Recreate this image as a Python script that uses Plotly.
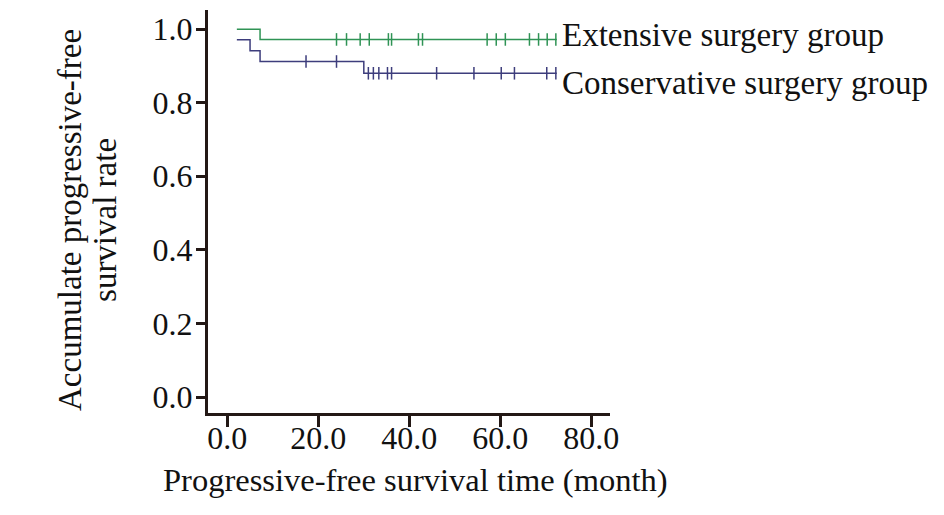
import plotly.graph_objects as go
import numpy as np

# Kaplan-Meier step data (months, survival rate)
ext_times = [2.1, 7.2, 72.4]
ext_surv = [1.0, 0.972, 0.972]
ext_censor = [24.0, 26.2, 29.2, 31.2, 35.4, 36.1, 42.0, 42.9, 57.1, 59.1, 61.1, 66.4, 68.4, 70.3, 72.2]

con_times = [2.1, 5.0, 7.2, 30.0, 72.4]
con_surv = [0.971, 0.941, 0.912, 0.880, 0.880]
con_censor = [17.3, 24.0, 31.0, 32.1, 33.3, 35.2, 36.1, 46.0, 54.2, 60.2, 63.1, 70.2, 72.2]

x_ticks = [0, 20, 40, 60, 80]
y_ticks = [0.0, 0.2, 0.4, 0.6, 0.8, 1.0]

group_names = ["Extensive surgery group", "Conservative surgery group"]
colors = ["#2f9355", "#3d3d7c"]
x_title = "Progressive-free survival time (month)"
y_title_lines = ["Accumulate progressive-free", "survival rate"]


def step_value(times, surv, t):
    idx = np.searchsorted(np.array(times), t, side="right") - 1
    idx = max(idx, 0)
    return surv[idx]


FONT = "Liberation Serif"
AX = "#231815"
TXT = "#111111"

fig = go.Figure()
for times, surv, cens, col in [(ext_times, ext_surv, ext_censor, colors[0]),
                               (con_times, con_surv, con_censor, colors[1])]:
    fig.add_trace(go.Scatter(x=times, y=surv, mode="lines", line=dict(color=col, width=1.5, shape="hv"),
                             showlegend=False, hoverinfo="skip"))
    fig.add_trace(go.Scatter(x=cens, y=[step_value(times, surv, t) for t in cens], mode="markers",
                             marker=dict(symbol="line-ns", size=9, line=dict(color=col, width=1.5)),
                             showlegend=False, hoverinfo="skip"))

# end labels
for name, times, surv, dy in [(group_names[0], ext_times, ext_surv, 0.011),
                              (group_names[1], con_times, con_surv, -0.027)]:
    fig.add_annotation(x=times[-1], y=surv[-1] + dy, text=name, showarrow=False,
                       xanchor="left", yanchor="middle", xshift=3,
                       font=dict(family=FONT, size=33, color=TXT))

# axis titles
fig.add_annotation(xref="paper", yref="paper", x=0.517, y=0, yshift=-67, text=x_title,
                   showarrow=False, xanchor="center", yanchor="middle",
                   font=dict(family=FONT, size=32.5, color=TXT))
for line, xs in zip(y_title_lines, [-138, -103]):
    fig.add_annotation(xref="paper", yref="paper", x=0, y=0.479, xshift=xs, text=line,
                       textangle=-90, showarrow=False, xanchor="center", yanchor="middle",
                       font=dict(family=FONT, size=33, color=TXT))

fig.update_layout(
    width=944, height=515,
    margin=dict(l=200, r=342, t=2, b=110),
    plot_bgcolor="white", paper_bgcolor="white",
    font=dict(family=FONT, size=32, color=TXT),
)
fig.update_xaxes(range=[-4.24, 84.1], tickvals=x_ticks, ticktext=[f"{v:.1f}" for v in x_ticks],
                 showline=True, linecolor=AX, linewidth=3, ticks="outside", ticklen=11,
                 tickwidth=3, tickcolor=AX, showgrid=False, zeroline=False,
                 ticklabelstandoff=-16,
                 tickfont=dict(family=FONT, size=32, color=TXT))
fig.update_yaxes(range=[-0.0435, 1.052], tickvals=y_ticks, ticktext=[f"{v:.1f}" for v in y_ticks],
                 showline=True, linecolor=AX, linewidth=3, ticks="outside", ticklen=9,
                 tickwidth=3, tickcolor=AX, showgrid=False, zeroline=False,
                 ticklabelstandoff=-3,
                 tickfont=dict(family=FONT, size=32, color=TXT))

fig.write_html("out.html")
